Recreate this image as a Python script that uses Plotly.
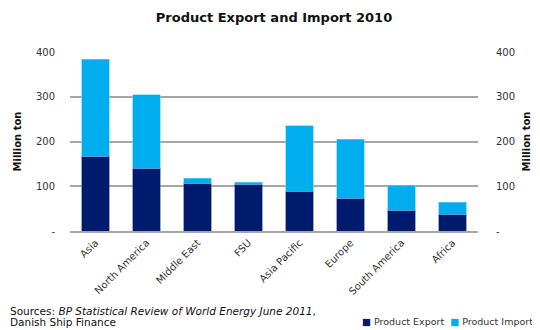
import plotly.graph_objects as go

categories = ["Asia", "North America", "Middle East", "FSU", "Asia Pacific", "Europe", "South America", "Africa"]
export_vals = [167, 140, 107, 104, 89, 73, 46, 38]
import_vals = [217, 165, 11, 5, 146, 132, 56, 26]
tick_vals = [0, 100, 200, 300, 400]
tick_text = ["-", "100", "200", "300", "400"]

EXPORT_C = "#001a6e"
IMPORT_C = "#00aeef"
FONT = "DejaVu Sans, Verdana, sans-serif"

# page body has an 8px default margin, so the figure is sized to fit the window
W, H = 532, 322
L, R, T, B = 62, 62, 44, 99
PW, PH = W - L - R, H - T - B

fig = go.Figure()
fig.add_trace(go.Bar(x=categories, y=export_vals, name="Product Export",
                     marker=dict(color=EXPORT_C, line=dict(color="#5a6aa8", width=0.6))))
fig.add_trace(go.Bar(x=categories, y=import_vals, name="Product Import",
                     marker=dict(color=IMPORT_C, line=dict(color="#6fd0f5", width=0.6))))
# invisible trace for right axis
fig.add_trace(go.Scatter(x=categories, y=[None]*len(categories), yaxis="y2",
                         showlegend=False, hoverinfo="skip"))

axis_font = dict(family=FONT, size=10, color="#333333")
title_font = dict(family=FONT, size=10, color="#111111")
fig.update_layout(
    width=W, height=H,
    barmode="stack", bargap=0.47,
    plot_bgcolor="white", paper_bgcolor="white",
    margin=dict(l=L, r=R, t=T, b=B, autoexpand=False),
    showlegend=False,
    title=dict(text="<b>Product Export and Import 2010</b>", x=0.5, xanchor="center",
               xref="paper", yref="container", y=1 - 9/H, yanchor="middle",
               font=dict(family=FONT, size=13, color="#111111")),
    xaxis=dict(tickangle=-45, tickfont=axis_font, showgrid=False, showline=True,
               linecolor="#a6a6a6", linewidth=2, ticks="", automargin=False,
               ticklabelstandoff=0),
    yaxis=dict(range=[0, 400], tickvals=tick_vals, ticktext=tick_text, tickfont=axis_font,
               showgrid=True, gridcolor="#a6a6a6", gridwidth=2, zeroline=False,
               ticks="", ticklabelstandoff=14, automargin=False,
               title=dict(text="<b>Million ton</b>", font=title_font, standoff=12)),
    yaxis2=dict(range=[0, 400], tickvals=tick_vals, ticktext=tick_text, tickfont=axis_font,
                overlaying="y", side="right", showgrid=False, zeroline=False, ticks="",
                ticklabelstandoff=17, automargin=False,
                title=dict(text="<b>Million ton</b>", font=title_font, standoff=8)),
)

foot_font = dict(family=FONT, size=10.5, color="#111111")
fig.add_annotation(xref="paper", yref="paper", x=(0 - L) / PW, y=-(303 - T - PH) / PH,
                   xanchor="left", yanchor="middle", align="left", showarrow=False,
                   text="Sources: <i>BP Statistical Review of World Energy June 2011</i>,",
                   font=foot_font)
fig.add_annotation(xref="paper", yref="paper", x=(0 - L) / PW, y=-(314 - T - PH) / PH,
                   xanchor="left", yanchor="middle", align="left", showarrow=False,
                   text="Danish Ship Finance", font=foot_font)
fig.add_annotation(xref="paper", yref="paper", x=(527 - L) / PW, y=-(313 - T - PH) / PH,
                   xanchor="right", yanchor="middle", showarrow=False,
                   text=f"<span style='color:{EXPORT_C}'>■</span> Product Export  <span style='color:{IMPORT_C}'>■</span> Product Import",
                   font=dict(family=FONT, size=9.5, color="#333333"))

fig.write_html("out.html")
